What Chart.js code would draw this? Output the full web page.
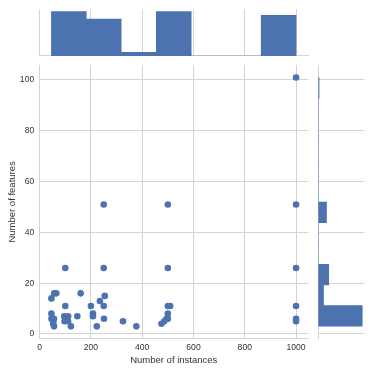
<!DOCTYPE html>
<html>
<head>
<meta charset="utf-8">
<script src="https://cdn.jsdelivr.net/npm/chart.js@4/dist/chart.umd.min.js"></script>
<style>
    html, body { margin: 0; padding: 0; background: #fff; }
    #wrap { position: relative; width: 374px; height: 374px; }
    #wrap canvas { position: absolute; left: 0; top: 0; }
</style>
</head>
<body>
<div id="wrap">
    <canvas id="joint-chart" width="374" height="374"></canvas>
    <canvas id="top-chart" width="374" height="374"></canvas>
    <canvas id="right-chart" width="374" height="374"></canvas>
</div>
<script>
const instances = [1000, 250, 500, 1000, 100, 250, 500, 1000, 46, 57, 65, 160, 100, 200, 250, 500, 509, 1000,
    235, 254, 46, 46, 56, 53, 53, 56, 96, 111, 97, 111, 122, 147, 208, 208, 251, 223, 325, 377,
    475, 486, 495, 500, 500, 1000, 1000];
const features = [101, 51, 51, 51, 26, 26, 26, 26, 14, 16, 16, 16, 11, 11, 11, 11, 11, 11,
    13, 15, 8, 6, 6, 5, 4, 3, 7, 7, 5, 5, 3, 7, 8, 7, 6, 3, 5, 3,
    4, 5, 6, 8, 6, 6, 5];

// marginal histograms (bin centers + counts)
const instanceBins = [114, 250, 387, 523, 659, 796, 932];
const instanceCounts = [24, 20, 2, 24, 0, 0, 22];
const featureBins = [7.1, 15.3, 23.4, 31.6, 39.8, 47.9, 56.1, 64.3, 72.4, 80.6, 88.8, 96.9];
const featureCounts = [59, 7, 14, 0, 0, 11, 0, 0, 0, 0, 0, 1];

const instanceTicks = [0, 200, 400, 600, 800, 1000];
const featureTicks = [0, 20, 40, 60, 80, 100];

const BLUE = "#4c72b0";
const GRID = "#d4d4d4";
const FONT = "'Liberation Sans', Arial, sans-serif";

const X_RANGE = { min: -1.7, max: 1047.7 };
const Y_RANGE = { min: -1.9, max: 105.9 };

function setTicks(values) {
    return (scale) => { scale.ticks = values.map((v) => ({ value: v })); };
}

const baseOptions = {
    responsive: false,
    animation: false,
    plugins: { legend: { display: false }, tooltip: { enabled: false } },
};

function initCharts() {
    new Chart(document.getElementById("joint-chart"), {
        type: "scatter",
        data: {
            datasets: [{
                data: instances.map((x, i) => ({ x: x, y: features[i] })),
                backgroundColor: BLUE,
                borderWidth: 0,
                pointRadius: 3.3,
            }],
        },
        options: {
            ...baseOptions,
            layout: { padding: { left: 0, top: 65, right: 65.7, bottom: 0 } },
            scales: {
                x: {
                    type: "linear",
                    ...X_RANGE,
                    afterBuildTicks: setTicks(instanceTicks),
                    afterFit: (s) => { s.height = 35.2; },
                    grid: { color: GRID, drawTicks: false },
                    border: { color: GRID },
                    ticks: {
                        color: "#333", padding: 4, font: { family: FONT, size: 8.6 },
                        callback: (v) => String(v),
                    },
                    title: {
                        display: true, text: "Number of instances", color: "#333",
                        padding: { top: 0, bottom: 8.3 }, font: { family: FONT, size: 9.5 },
                    },
                },
                y: {
                    type: "linear",
                    ...Y_RANGE,
                    afterBuildTicks: setTicks(featureTicks),
                    afterFit: (s) => { s.width = 39.2; },
                    grid: { color: GRID, drawTicks: false },
                    border: { color: GRID },
                    ticks: {
                        color: "#333", padding: 5, font: { family: FONT, size: 8.6 },
                        callback: (v) => String(v),
                    },
                    title: {
                        display: true, text: "Number of features", color: "#333",
                        padding: { top: 6.8, bottom: 0 }, font: { family: FONT, size: 9.5 },
                    },
                },
            },
        },
    });

    new Chart(document.getElementById("top-chart"), {
        type: "bar",
        data: {
            datasets: [{
                data: instanceBins.map((x, i) => ({ x: x, y: instanceCounts[i] })),
                backgroundColor: BLUE,
                borderWidth: 0,
                barPercentage: 1,
                categoryPercentage: 1,
            }],
        },
        options: {
            ...baseOptions,
            layout: { padding: { left: 39.2, top: 9.3, right: 65.7, bottom: 318 } },
            scales: {
                x: {
                    type: "linear",
                    ...X_RANGE,
                    offset: false,
                    afterBuildTicks: setTicks(instanceTicks),
                    afterFit: (s) => { s.height = 0; },
                    grid: { color: GRID, drawTicks: false, offset: false },
                    border: { color: GRID },
                    ticks: { display: false },
                },
                y: { display: false, min: 0, max: 25.3 },
            },
        },
    });

    new Chart(document.getElementById("right-chart"), {
        type: "bar",
        data: {
            datasets: [{
                data: featureBins.map((y, i) => ({ x: featureCounts[i], y: y })),
                backgroundColor: BLUE,
                borderWidth: 0,
                barPercentage: 1,
                categoryPercentage: 1,
            }],
        },
        options: {
            ...baseOptions,
            indexAxis: "y",
            layout: { padding: { left: 318.3, top: 65, right: 9.5, bottom: 35.2 } },
            scales: {
                y: {
                    type: "linear",
                    ...Y_RANGE,
                    offset: false,
                    afterBuildTicks: setTicks(featureTicks),
                    afterFit: (s) => { s.width = 0; },
                    grid: { color: GRID, drawTicks: false, offset: false },
                    border: { color: GRID },
                    ticks: { display: false },
                },
                x: { display: false, min: 0, max: 62 },
            },
        },
    });
}

initCharts();
</script>
</body>
</html>
